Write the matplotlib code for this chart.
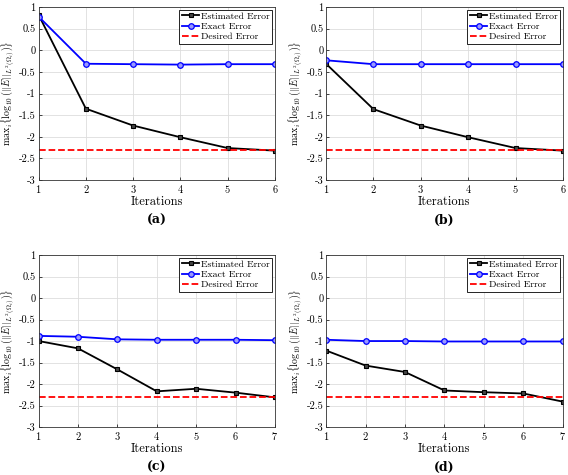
import numpy as np
import matplotlib
matplotlib.use("Agg")
import matplotlib.pyplot as plt

plt.rcParams['font.family'] = 'serif'
plt.rcParams['font.serif'] = ['cmr10', 'DejaVu Serif']
plt.rcParams['mathtext.fontset'] = 'cm'
plt.rcParams['axes.formatter.use_mathtext'] = True
plt.rcParams['axes.unicode_minus'] = False

iters_ab = [1, 2, 3, 4, 5, 6]
iters_cd = [1, 2, 3, 4, 5, 6, 7]

est_a = [0.82, -1.35, -1.74, -2.01, -2.26, -2.32]
exact_a = [0.78, -0.31, -0.32, -0.33, -0.32, -0.32]
est_b = [-0.31, -1.36, -1.74, -2.01, -2.26, -2.32]
exact_b = [-0.23, -0.32, -0.32, -0.32, -0.32, -0.32]
est_c = [-1.00, -1.17, -1.66, -2.17, -2.11, -2.20, -2.31]
exact_c = [-0.88, -0.90, -0.96, -0.97, -0.97, -0.97, -0.98]
est_d = [-1.22, -1.57, -1.72, -2.15, -2.19, -2.22, -2.41]
exact_d = [-0.97, -1.00, -1.00, -1.01, -1.01, -1.01, -1.01]
desired = -2.31

panels = [
    ("(a)", iters_ab, est_a, exact_a, [0.068, 0.621, 0.416, 0.364]),
    ("(b)", iters_ab, est_b, exact_b, [0.574, 0.621, 0.417, 0.364]),
    ("(c)", iters_cd, est_c, exact_c, [0.068, 0.101, 0.416, 0.362]),
    ("(d)", iters_cd, est_d, exact_d, [0.574, 0.101, 0.417, 0.362]),
]

fig = plt.figure(figsize=(5.68, 4.75), dpi=100)

for label, x, est, exact, pos in panels:
    ax = fig.add_axes(pos)
    ax.plot(x, est, '-s', color='black', lw=1.3, ms=3.5,
            mfc='#444444', mec='black', mew=0.8, label='Estimated Error')
    ax.plot(x, exact, '-o', color='blue', lw=1.3, ms=4,
            mfc='#9999ff', mec='blue', mew=0.9, label='Exact Error')
    ax.plot(x, [desired] * len(x), '--', color='red', lw=1.3,
            label='Desired Error')
    ax.set_xlim(x[0], x[-1])
    ax.set_ylim(-3, 1)
    ax.set_xticks(x)
    ax.set_yticks(np.arange(-3, 1.01, 0.5))
    ax.set_yticklabels(['-3', '-2.5', '-2', '-1.5', '-1', '-0.5', '0', '0.5', '1'])
    ax.grid(True, color='#dddddd', lw=0.6)
    ax.tick_params(labelsize=7.5, direction='in', length=2, width=0.5, pad=2)
    for s in ax.spines.values():
        s.set_linewidth(0.6)
        s.set_color('#333333')
    ax.set_xlabel('Iterations', fontsize=9, labelpad=1)
    ax.set_ylabel(r'$\mathrm{max}_i\{\log_{10}(||E||_{L^2(\Omega_i)})\}$',
                  fontsize=7.2)
    ax.yaxis.set_label_coords(-0.095, 0.5)
    leg = ax.legend(loc='upper right', fontsize=7, fancybox=False,
                    edgecolor='black', framealpha=1, handlelength=1.8,
                    borderpad=0.25, labelspacing=0.15, handletextpad=0.2,
                    borderaxespad=0.25)
    leg.get_frame().set_linewidth(0.6)
    cx = pos[0] + pos[2] / 2
    fig.text(cx, pos[1] - 0.085, label, ha='center', va='center',
             fontsize=9, fontweight='bold', family='DejaVu Serif')

fig.savefig('out.png', dpi=100)
